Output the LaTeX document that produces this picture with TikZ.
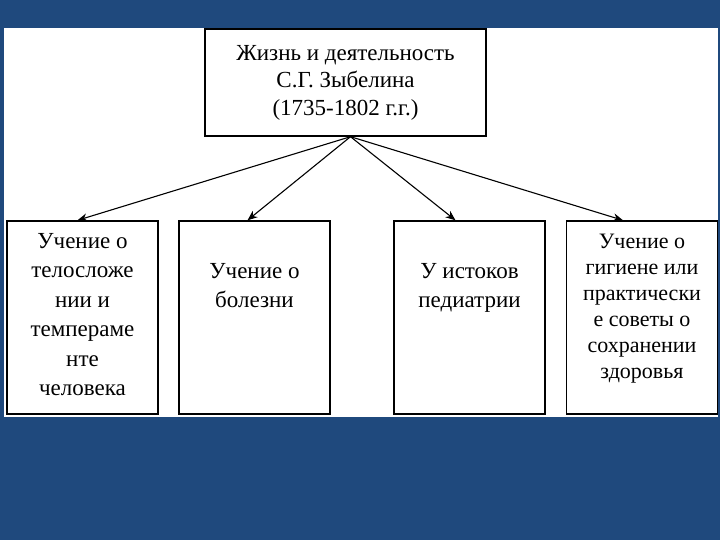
\documentclass[tikz,border=0pt]{standalone}
\usepackage{fontspec}
\setmainfont{Liberation Serif}
\usetikzlibrary{positioning,arrows.meta}
\definecolor{slideblue}{RGB}{31,73,125}

\begin{document}
\begin{tikzpicture}[x=1pt,y=-1pt,>={Stealth[length=10pt,width=8pt]},
  box/.style={draw,line width=1.4pt,minimum width=151pt,minimum height=193pt,inner sep=0pt},
  txt/.style={align=center,inner sep=0pt,font=\fontsize{23}{29.4}\selectfont}]
  \fill[slideblue] (0,0) rectangle (720,540);
  \fill[white] (4,28) rectangle (718,417);
  \node[draw,line width=1.4pt,minimum width=281pt,minimum height=107pt,align=center,
    font=\fontsize{23}{27.5}\selectfont] (life) at (345.5,82.5)
    {Жизнь и деятельность\\С.Г. Зыбелина\\(1735-1802 г.г.)};
  \node[box] (b1) at (82.5,317.5) {};
  \node[box] (b2) at (254.5,317.5) {};
  \node[box] (b3) at (469.5,317.5) {};
  \node[box] (b4) at (642,317.5) {};
  \node[txt,below=13pt of b1.north] (t1) {Учение о\\телосложе\\нии и\\темпераме\\нте\\человека};
  \node[txt,below=43pt of b2.north] (t2) {Учение о\\болезни};
  \node[txt,below=43pt of b3.north] (t3) {У истоков\\педиатрии};
  \node[txt,below=14pt of b4.north,font=\fontsize{22}{26}\selectfont] (t4)
    {Учение о\\гигиене или\\практически\\е советы о\\сохранении\\здоровья};
  % arrows from the title box
  \coordinate (hub) at ([xshift=5pt]life.south);
  \draw[->,line width=1.1pt] (hub) -- ([xshift=-5pt]b1.north);
  \draw[->,line width=1.1pt] (hub) -- ([xshift=-7pt]b2.north);
  \draw[->,line width=1.1pt] (hub) -- ([xshift=-14pt]b3.north);
  \draw[->,line width=1.1pt] (hub) -- ([xshift=-19pt]b4.north);
\end{tikzpicture}
\end{document}
